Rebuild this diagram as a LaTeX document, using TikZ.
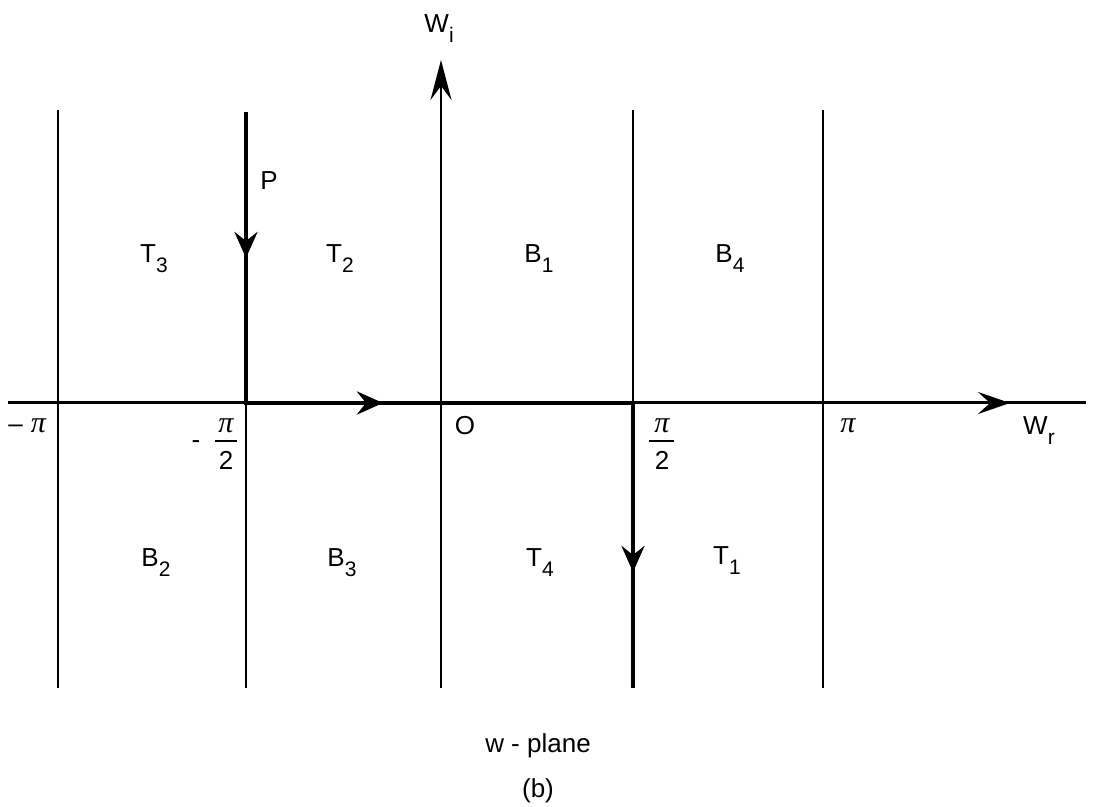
\documentclass[tikz,border=0pt]{standalone}
\usepackage{fontspec}
\setmainfont{Liberation Sans}
\newfontfamily\pifont{Liberation Serif}
\usetikzlibrary{arrows.meta,decorations.markings}
\newcommand\subs[1]{\kern0.1pt\raisebox{-0.36em}{\fontsize{10.5}{10.5}\selectfont #1}}
\newcommand\mypi{{\pifont\itshape\fontsize{15}{15}\selectfont π}}
\tikzset{midtip/.tip={Stealth[length=13pt,width=11.5pt,inset=4.5pt]}}
\begin{document}
\begin{tikzpicture}[x=0.5pt,y=-0.5pt,
  thinline/.style={line width=1.15pt},
  axisline/.style={line width=1.5pt},
  pathline/.style={line width=2.4pt},
  barline/.style={line width=1pt},
  lbl/.style={inner sep=0pt, anchor=base, font=\fontsize{13}{15}\selectfont}
]
\useasboundingbox (0,0) rectangle (1093,807);

% coordinates
\coordinate (xl) at (8,403);
\coordinate (xr) at (1086,403);
\coordinate (wbot) at (441,688);
\coordinate (wtop) at (441,60);
\coordinate (mpt) at (58,110);  \coordinate (mpb) at (58,688);
\coordinate (ppt) at (823,110); \coordinate (ppb) at (823,688);
\coordinate (hA) at (246,403);  \coordinate (hAb) at (246,688);
\coordinate (hBt) at (633,110); \coordinate (hB) at (633,403);
\coordinate (P0) at (246,112);
\coordinate (C0) at (633,688);

% thin vertical lines
\draw[thinline] (mpt) -- (mpb);
\draw[thinline] (ppt) -- (ppb);
\draw[thinline] (hA) -- (hAb);
\draw[thinline] (hBt) -- (hB);

% real axis with arrow
\draw[axisline, postaction={decorate},
  decoration={markings, mark=at position 501pt with {\arrow{Stealth[length=16pt,width=11pt,inset=6pt]}}}]
  (xl) -- (xr);

% imaginary axis
\draw[thinline, -{Stealth[length=20pt,width=10.5pt,inset=7pt]}] (wbot) -- (wtop);

% path P
\draw[pathline, line join=miter, postaction={decorate},
  decoration={markings,
    mark=at position 73pt with {\arrow{midtip}},
    mark=at position 214pt with {\arrow{midtip}},
    mark=at position 423.5pt with {\arrow{midtip}}}]
  (P0) -- (hA) -- (hB) -- (C0);

% labels
\node[lbl] (wi) at (439,33) {W\subs{i}};
\node[lbl] (p) at (269,190) {P};
\node[lbl] (t3) at (154,263) {T\subs{3}};
\node[lbl] (t2) at (340,263) {T\subs{2}};
\node[lbl] (b1) at (539,263) {B\subs{1}};
\node[lbl] (b4) at (730,263) {B\subs{4}};
\node[lbl] (b2) at (156,567) {B\subs{2}};
\node[lbl] (b3) at (342,567) {B\subs{3}};
\node[lbl] (t4) at (540,567) {T\subs{4}};
\node[lbl] (t1) at (727,565) {T\subs{1}};
\node[lbl] (o) at (465,435) {O};
\node[lbl] (wr) at (1039,435) {W\subs{r}};
\node[lbl, anchor=base west] (mpi) at (8,433) {\textendash\hspace{4pt}\mypi};
\node[lbl] (ppi) at (848,433) {\mypi};
% pi/2
\node[lbl] (hpn) at (662,433) {\mypi};
\draw[barline] (649,441) -- (674,441);
\node[lbl] (hpd) at (662,470) {2};
% -pi/2
\node[lbl] (mhm) at (196,449) {-};
\node[lbl] (mhn) at (226,433) {\mypi};
\draw[barline] (215,441) -- (237,441);
\node[lbl] (mhd) at (226,470) {2};
% captions
\node[lbl] (cap) at (538,752) {w - plane};
\node[lbl] (sub) at (538,797) {(b)};
\end{tikzpicture}
\end{document}
